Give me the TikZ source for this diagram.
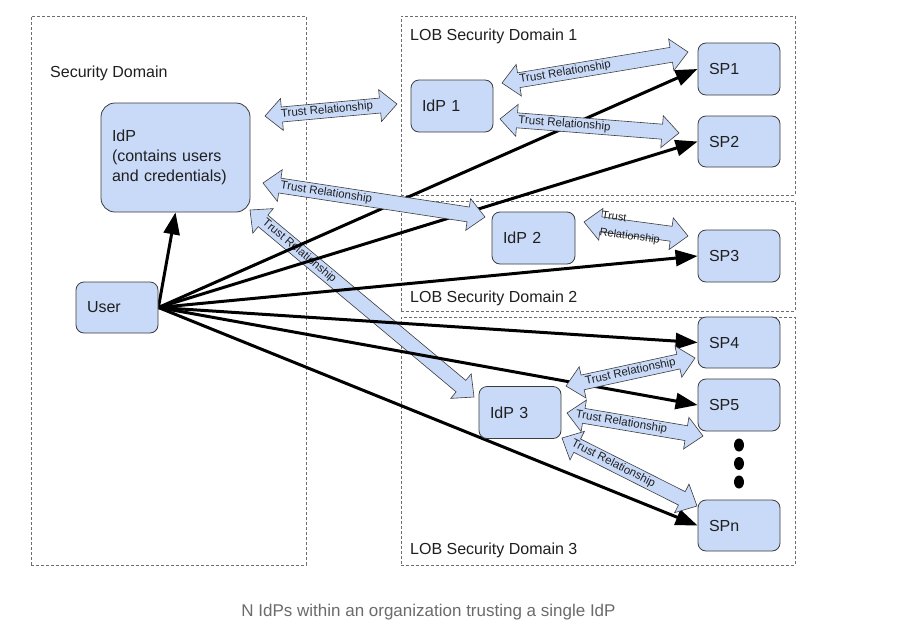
\documentclass[tikz,border=0pt]{standalone}
\usepackage{fontspec}
\setmainfont{Liberation Sans}
\usetikzlibrary{calc,arrows.meta,shapes.geometric}
\definecolor{boxfill}{HTML}{C9DAF8}
\definecolor{boxline}{HTML}{3C3C3C}
\definecolor{dashc}{HTML}{6E6E6E}
\definecolor{capc}{HTML}{6B6B6B}
\definecolor{txtc}{HTML}{1F1F1F}
\pgfdeclarelayer{bg}
\pgfdeclarelayer{mid}
\pgfsetlayers{bg,mid,main}
\newcommand\tHL{17pt}
\newcommand\tHW{16pt}
\newcommand\tSW{7.5pt}
\newcommand\trustarrow[5][]{%
  \draw[trust] (#2)
    -- ($(#2)!\tHL!(#3)!\tHW!90:(#3)$)
    -- ($(#2)!\tHL!(#3)!\tSW!90:(#3)$)
    -- ($(#3)!\tHL!(#2)!\tSW!-90:(#2)$)
    -- ($(#3)!\tHL!(#2)!\tHW!-90:(#2)$)
    -- (#3)
    -- ($(#3)!\tHL!(#2)!\tHW!90:(#2)$)
    -- ($(#3)!\tHL!(#2)!\tSW!90:(#2)$)
    -- ($(#2)!\tHL!(#3)!\tSW!-90:(#3)$)
    -- ($(#2)!\tHL!(#3)!\tHW!-90:(#3)$)
    -- cycle;
  \path let \p1=(#2), \p2=(#3), \n1={atan2(\y2-\y1,\x2-\x1)} in
    ($(#2)!#4!(#3)$) node[trustlbl,rotate=\n1,#1] {#5};%
}
\tikzset{
  dom/.style={draw=dashc, line width=0.9pt, dash pattern=on 3pt off 2pt, inner sep=0pt},
  domlbl/.style={anchor=base west, inner sep=0pt, text=txtc, font=\fontsize{16}{20}\selectfont},
  box/.style={draw=boxline, fill=boxfill, line width=0.8pt, rounded corners=8pt,
    inner xsep=11pt, inner ysep=0pt, align=left, text width=60pt, minimum height=52pt,
    text=txtc, font=\fontsize{16}{20}\selectfont},
  trust/.style={draw=boxline, fill=boxfill, line width=0.6pt, line join=miter},
  trustlbl/.style={inner sep=0pt, text=txtc, font=\fontsize{11.5}{12}\selectfont},
  usr/.style={line width=3pt, draw=black, -{Triangle[length=22pt,width=16pt]}},
  dot/.style={fill=black, ellipse, minimum width=10pt, minimum height=13pt, inner sep=0pt}
}
\begin{document}
\begin{tikzpicture}[x=1pt,y=-1pt]
\useasboundingbox (0,0) rectangle (902,643);
\begin{pgfonlayer}{bg}
\fill[white] (0,0) rectangle (902,643);
\node[dom, minimum width=275pt, minimum height=549pt] (dom0) at (168.5,290.5) {};
\node[dom, minimum width=394pt, minimum height=179pt] (dom1) at (598,105.5) {};
\node[dom, minimum width=394pt, minimum height=110pt] (dom2) at (598,256) {};
\node[dom, minimum width=394pt, minimum height=248pt] (dom3) at (598,441) {};
\end{pgfonlayer}

\node[domlbl] (l0) at (50,77) {Security Domain};
\node[domlbl] (l1) at (410,40) {LOB Security Domain 1};
\node[domlbl] (l2) at (410,302) {LOB Security Domain 2};
\node[domlbl] (l3) at (410,554) {LOB Security Domain 3};

% nodes
\node[box, text width=127pt, minimum height=109pt, rounded corners=14pt] (idp) at (175.5,157.5)
  {IdP\\(contains users\\and credentials)};
\node[box, minimum height=51pt] (user) at (117,307.5) {User};
\node[box] (idp1) at (452,106) {IdP 1};
\node[box, text width=61pt] (idp2) at (533.5,238) {IdP 2};
\node[box] (idp3) at (520,412.5) {IdP 3};
\node[box] (sp1) at (739,69) {SP1};
\node[box, minimum height=51pt] (sp2) at (739,141.5) {SP2};
\node[box] (sp3) at (739,256) {SP3};
\node[box, minimum height=51pt] (sp4) at (739,342.5) {SP4};
\node[box] (sp5) at (739,405) {SP5};
\node[box, minimum height=51pt] (spn) at (739,525.5) {SPn};

\node[dot] (d1) at (739,445) {};
\node[dot] (d2) at (739,463.5) {};
\node[dot] (d3) at (739,482) {};

% trust arrow endpoints
\coordinate (t1a) at (265,116); \coordinate (t1b) at (397,104);
\coordinate (t2a) at (502,83);  \coordinate (t2b) at (688,52);
\coordinate (t3a) at (500,119); \coordinate (t3b) at (679,133);
\coordinate (t4a) at (263,183); \coordinate (t4b) at (485,217);
\coordinate (t5a) at (584,222); \coordinate (t5b) at (688,236);
\coordinate (t6a) at (250,210); \coordinate (t6b) at (474,397);
\coordinate (t7a) at (566,386); \coordinate (t7b) at (695,358);
\coordinate (t8a) at (567,413); \coordinate (t8b) at (703,436);
\coordinate (t9a) at (562,438); \coordinate (t9b) at (697,506);

\begin{pgfonlayer}{bg}
\trustarrow{t6a}{t6b}{0.22}{Trust Relationship}
\end{pgfonlayer}

\begin{pgfonlayer}{mid}
\draw[usr] (user.east) -- (idp.south);
\draw[usr] (user.east) -- (sp1.west);
\draw[usr] (user.east) -- (sp2.west);
\draw[usr] (user.east) -- (sp3.west);
\draw[usr] (user.east) -- (sp4.west);
\draw[usr] (user.east) -- (sp5.west);
\draw[usr] (user.east) -- (spn.west);

\trustarrow{t1a}{t1b}{0.47}{Trust Relationship}
\trustarrow{t2a}{t2b}{0.34}{Trust Relationship}
\trustarrow{t3a}{t3b}{0.36}{Trust Relationship}
\trustarrow{t4a}{t4b}{0.285}{Trust Relationship}
\trustarrow[align=left, font=\fontsize{11}{17}\selectfont]{t5a}{t5b}{0.45}{Trust\\Relationship}
\trustarrow{t7a}{t7b}{0.5}{Trust Relationship}
\trustarrow{t8a}{t8b}{0.4}{Trust Relationship}
\trustarrow{t9a}{t9b}{0.38}{Trust Relationship}
\end{pgfonlayer}

\node[text=capc, inner sep=0pt, font=\fontsize{17}{20}\selectfont] (cap) at (428.5,612)
  {N IdPs within an organization trusting a single IdP};
\end{tikzpicture}
\end{document}
